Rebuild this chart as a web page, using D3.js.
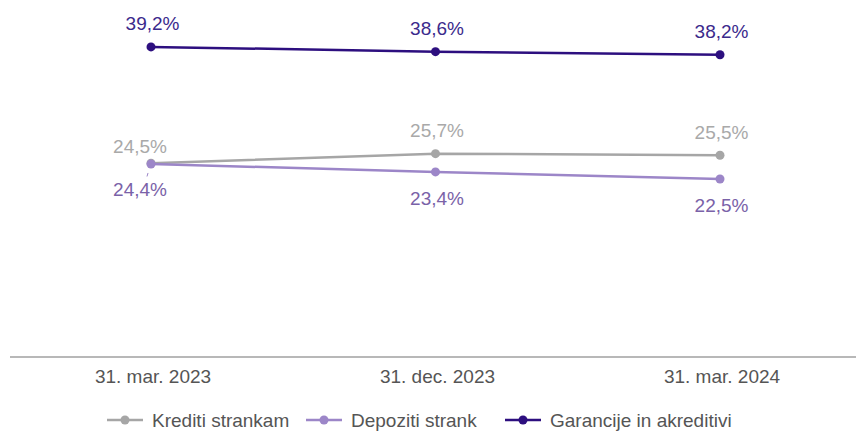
<!DOCTYPE html>
<html><head><meta charset="utf-8">
<script src="https://cdn.jsdelivr.net/npm/d3@7"></script>
<style>body{margin:0;background:#fff}svg{display:block;font-family:"Liberation Sans",Arial,sans-serif}</style>
</head><body><svg id="c" width="856" height="431"></svg>
<script>
const categories = ["31. mar. 2023", "31. dec. 2023", "31. mar. 2024"];
const seriesNames = ["Krediti strankam", "Depoziti strank", "Garancije in akreditivi"];
const krediti = [24.5, 25.7, 25.5];
const depoziti = [24.4, 23.4, 22.5];
const garancije = [39.2, 38.6, 38.2];

const series = [
  {name: seriesNames[0], values: krediti, color: "#a6a6a6", label: "#a9a9a9", pos: "above"},
  {name: seriesNames[1], values: depoziti, color: "#9c86c8", label: "#7a62a8", pos: "below"},
  {name: seriesNames[2], values: garancije, color: "#2d0f7f", label: "#3b2a8c", pos: "above"}
];

const svg = d3.select("#c");
const x = d3.scalePoint().domain(categories).range([151, 720]);
const y = d3.scaleLinear().domain([0, 45]).range([357, 1]);
const fmt = v => v.toFixed(1).replace(".", ",") + "%";
const FS = 19;

// baseline
svg.append("line").attr("x1", 10).attr("x2", 856).attr("y1", y(0)).attr("y2", y(0))
  .attr("stroke", "#a0a0a0").attr("stroke-width", 1.5);

// x axis labels
const ax = svg.append("g").attr("transform", `translate(1.5,${y(0)})`)
  .call(d3.axisBottom(x).tickSize(0).tickPadding(12.5));
ax.select(".domain").remove();
ax.selectAll("text").attr("font-size", FS).attr("fill", "#555").attr("font-family", "Liberation Sans, Arial, sans-serif");

const line = d3.line().x((d, i) => x(categories[i])).y(d => y(d));
series.forEach((s, si) => {
  const g = svg.append("g");
  g.append("path").attr("d", line(s.values)).attr("fill", "none")
    .attr("stroke", s.color).attr("stroke-width", 2.5);
  g.selectAll("circle").data(s.values).join("circle")
    .attr("cx", (d, i) => x(categories[i])).attr("cy", d => y(d)).attr("r", 4.5)
    .attr("fill", s.color);
  g.selectAll("text").data(s.values).join("text")
    .attr("x", (d, i) => x(categories[i]) + 1.5 + (i === 0 && si < 2 ? -12.5 : 0))
    .attr("y", (d, i) => {
      if (s.pos === "below") return y(d) + (i === 0 ? 32 : 33);
      return y(d) - (i === 0 && si === 0 ? 10 : 16.5);
    })
    .attr("text-anchor", "middle").attr("font-size", FS).attr("fill", s.label)
    .text(d => fmt(d));
});
// small leader for first depoziti label
svg.append("line").attr("x1", x(categories[0]) - 3).attr("y1", y(depoziti[0]) + 9)
  .attr("x2", x(categories[0]) - 4).attr("y2", y(depoziti[0]) + 12.5)
  .attr("stroke", "#9c86c8").attr("stroke-width", 1);

// legend
const legX = [107, 306, 505];
const leg = svg.append("g").attr("transform", "translate(0,420)");
series.forEach((s, i) => {
  const g = leg.append("g").attr("transform", `translate(${legX[i]},0)`);
  g.append("line").attr("x1", 0).attr("x2", 36).attr("y1", 0).attr("y2", 0)
    .attr("stroke", s.color).attr("stroke-width", 2.5);
  g.append("circle").attr("cx", 18).attr("cy", 0).attr("r", 4.5).attr("fill", s.color);
  g.append("text").attr("x", 45).attr("y", 7).attr("font-size", FS).attr("fill", "#555").text(s.name);
});
</script></body></html>
